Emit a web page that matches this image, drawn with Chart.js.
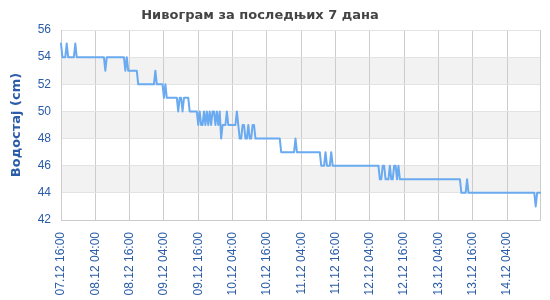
<!DOCTYPE html>
<html>
<head>
<meta charset="utf-8">
<script src="https://cdn.jsdelivr.net/npm/chart.js@4"></script>
<style>
    html, body { margin: 0; padding: 0; background: #fff; }
    #wrap { position: relative; width: 550px; height: 300px; }
    #title { position: absolute; top: 7px; left: 0; width: 520px; text-align: center; font: bold 13px "DejaVu Sans", sans-serif; color: #444; }
</style>
</head>
<body>
<div id="wrap">
    <div id="title">Нивограм за последњих 7 дана</div>
    <canvas id="chart" width="550" height="300"></canvas>
</div>
<script>
// readings every 30 min, one row = 12 hours
const levels = [
    55, 54, 54, 54, 55, 54, 54, 54, 54, 54, 55, 54, 54, 54, 54, 54, 54, 54, 54, 54, 54, 54, 54, 54,
    54, 54, 54, 54, 54, 54, 54, 53, 54, 54, 54, 54, 54, 54, 54, 54, 54, 54, 54, 54, 54, 53, 54, 53,
    53, 53, 53, 53, 53, 53, 52, 52, 52, 52, 52, 52, 52, 52, 52, 52, 52, 52, 53, 52, 52, 52, 52, 52,
    51, 52, 51, 51, 51, 51, 51, 51, 51, 51, 50, 51, 51, 50, 51, 51, 51, 51, 50, 50, 50, 50, 50, 50,
    49, 50, 49, 49, 50, 49, 50, 49, 50, 49, 50, 50, 49, 50, 49, 50, 48, 49, 49, 49, 50, 49, 49, 49,
    49, 49, 49, 50, 49, 48, 48, 49, 49, 48, 48, 49, 48, 48, 49, 49, 48, 48, 48, 48, 48, 48, 48, 48,
    48, 48, 48, 48, 48, 48, 48, 48, 48, 48, 47, 47, 47, 47, 47, 47, 47, 47, 47, 47, 48, 47, 47, 47,
    47, 47, 47, 47, 47, 47, 47, 47, 47, 47, 47, 47, 47, 47, 46, 46, 46, 47, 46, 46, 46, 47, 46, 46,
    46, 46, 46, 46, 46, 46, 46, 46, 46, 46, 46, 46, 46, 46, 46, 46, 46, 46, 46, 46, 46, 46, 46, 46,
    46, 46, 46, 46, 46, 46, 46, 45, 45, 46, 46, 45, 45, 45, 46, 45, 45, 46, 46, 45, 46, 45, 45, 45,
    45, 45, 45, 45, 45, 45, 45, 45, 45, 45, 45, 45, 45, 45, 45, 45, 45, 45, 45, 45, 45, 45, 45, 45,
    45, 45, 45, 45, 45, 45, 45, 45, 45, 45, 45, 45, 45, 45, 45, 45, 44, 44, 44, 44, 45, 44, 44, 44,
    44, 44, 44, 44, 44, 44, 44, 44, 44, 44, 44, 44, 44, 44, 44, 44, 44, 44, 44, 44, 44, 44, 44, 44,
    44, 44, 44, 44, 44, 44, 44, 44, 44, 44, 44, 44, 44, 44, 44, 44, 44, 44, 44, 44, 43, 44, 44, 44
];

const tickLabels = [
    '07.12 16:00', '08.12 04:00', '08.12 16:00', '09.12 04:00', '09.12 16:00',
    '10.12 04:00', '10.12 16:00', '11.12 04:00', '11.12 16:00', '12.12 04:00',
    '12.12 16:00', '13.12 04:00', '13.12 16:00', '14.12 04:00'
];
const bands = [[44, 46], [48, 50], [52, 54]];
const yMin = 42;
const yMax = 56;
const perTick = 24;

const pad = (n) => String(n).padStart(2, '0');
const start = new Date(2020, 11, 7, 16, 0);
const times = levels.map((_, i) => {
    const d = new Date(start.getTime() + i * 30 * 60000);
    return `${pad(d.getDate())}.${pad(d.getMonth() + 1)} ${pad(d.getHours())}:${pad(d.getMinutes())}`;
});

const blue = '#2a5ca8';
const gridGray = '#cccccc';

const bandsPlugin = {
    id: 'bands',
    beforeDraw(chart) {
        const { ctx, chartArea: area, scales: { y } } = chart;
        ctx.save();
        ctx.fillStyle = '#f2f2f2';
        bands.forEach(([from, to]) => {
            const top = y.getPixelForValue(to);
            const bottom = y.getPixelForValue(from);
            ctx.fillRect(area.left, top, area.right - area.left, bottom - top);
        });
        ctx.restore();
    }
};

new Chart(document.getElementById('chart'), {
    type: 'line',
    data: {
        labels: times,
        datasets: [{
            label: 'Водостај',
            data: levels,
            borderColor: '#6aaaf0',
            borderWidth: 2,
            borderJoinStyle: 'round',
            borderCapStyle: 'round',
            pointRadius: 0,
            tension: 0,
            fill: false
        }]
    },
    options: {
        responsive: false,
        animation: false,
        layout: { padding: { top: 30, right: 10, left: 0, bottom: 0 } },
        plugins: {
            legend: { display: false },
            title: { display: false }
        },
        scales: {
            x: {
                grid: {
                    drawTicks: false,
                    color: (c) => (c.index % perTick === 0 || c.index === levels.length - 1) ? gridGray : 'rgba(0,0,0,0)'
                },
                border: { color: gridGray },
                ticks: {
                    autoSkip: false,
                    minRotation: 90,
                    maxRotation: 90,
                    padding: 12,
                    color: blue,
                    font: { family: 'Liberation Sans', size: 12 },
                    callback: (value, index) => index % perTick === 0 ? tickLabels[index / perTick] : ''
                },
                afterFit: (scale) => {
                    scale.height = 80;
                    scale.paddingLeft = 0;
                    scale.paddingRight = 0;
                }
            },
            y: {
                min: yMin,
                max: yMax,
                grid: { color: '#e3e3e3', drawTicks: false },
                border: { color: gridGray },
                ticks: {
                    stepSize: 2,
                    padding: 10,
                    color: blue,
                    font: { family: 'Liberation Sans', size: 12 }
                },
                title: {
                    display: true,
                    text: 'Водостај (cm)',
                    color: blue,
                    font: { family: 'DejaVu Sans', size: 13, weight: 'bold' },
                    padding: { top: 9, bottom: 0 }
                },
                afterFit: (scale) => { scale.width = 61; }
            }
        }
    },
    plugins: [bandsPlugin]
});
</script>
</body>
</html>
